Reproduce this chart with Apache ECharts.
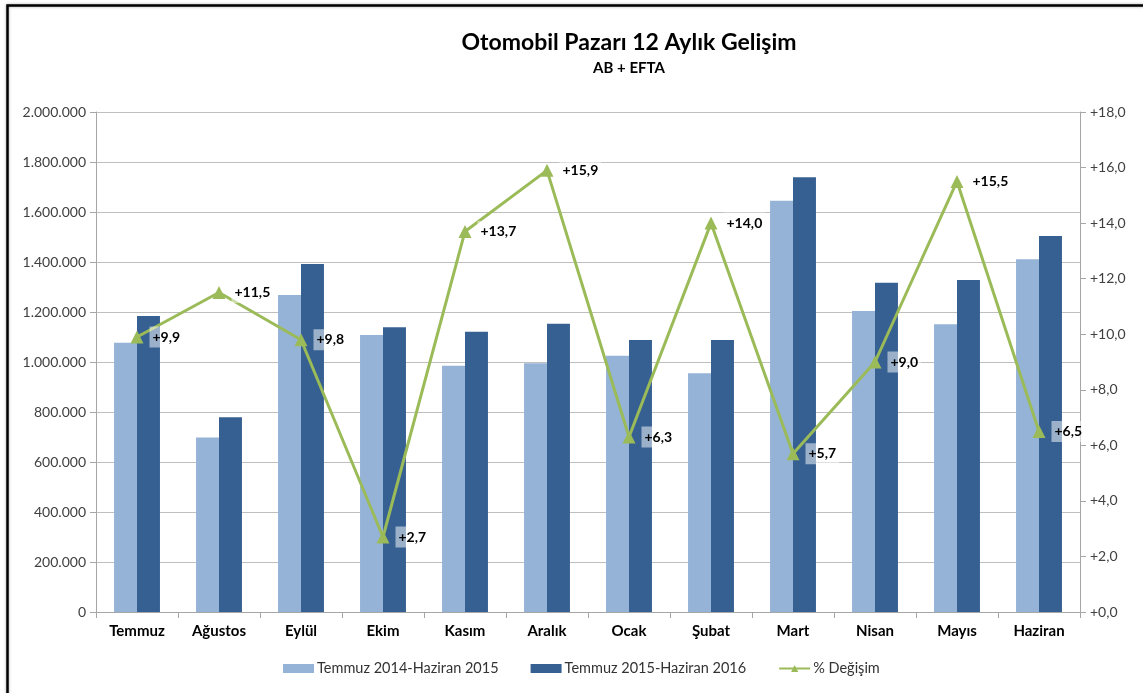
<!DOCTYPE html>
<html><head><meta charset="utf-8">
<script src="https://cdn.jsdelivr.net/npm/echarts@6/dist/echarts.min.js"></script>
<style>html,body{margin:0;padding:0;background:#fff}#c{width:1143px;height:693px}</style>
</head><body><div id="c"></div>
<script>
const categories = ['Temmuz','Ağustos','Eylül','Ekim','Kasım','Aralık','Ocak','Şubat','Mart','Nisan','Mayıs','Haziran'];
const period1 = [1077000, 698000, 1268000, 1108000, 985000, 995000, 1025000, 955000, 1645000, 1204000, 1151000, 1411000];
const period2 = [1184000, 779000, 1392000, 1139000, 1121000, 1153000, 1088000, 1088000, 1739000, 1317000, 1328000, 1504000];
const change = [9.9, 11.5, 9.8, 2.7, 13.7, 15.9, 6.3, 14.0, 5.7, 9.0, 15.5, 6.5];
const seriesNames = ['Temmuz 2014-Haziran 2015', 'Temmuz 2015-Haziran 2016', '% Değişim'];

const FONT = 'Lato, "Open Sans", sans-serif';
const fmtLeft = v => v === 0 ? '0' : String(v).replace(/\B(?=(\d{3})+(?!\d))/g, '.');
const fmtRight = v => '+' + Number(v).toFixed(1).replace('.', ',');

const chart = echarts.init(document.getElementById('c'));
chart.setOption({
  animation: false,
  backgroundColor: '#fff',
  textStyle: { fontFamily: FONT },
  title: [
    { text: 'Otomobil Pazarı 12 Aylık Gelişim', left: 624, top: 26, textAlign: 'center',
      textStyle: { fontFamily: FONT, fontSize: 23, fontWeight: 'bold', color: '#000' } },
    { text: 'AB + EFTA', left: 624, top: 56, textAlign: 'center',
      textStyle: { fontFamily: FONT, fontSize: 15, fontWeight: 'bold', color: '#000' } }
  ],
  graphic: [{
    type: 'rect', left: 5, top: 3, silent: true,
    shape: { width: 1160, height: 720 },
    style: { fill: 'none', stroke: '#000', lineWidth: 2.5, shadowColor: 'rgba(0,0,0,0.35)', shadowBlur: 3 }
  }],
  legend: {
    bottom: 12, left: 278, itemGap: 32, itemWidth: 31, itemHeight: 9,
    textStyle: { fontFamily: FONT, fontSize: 14.5, color: '#333', padding: [0, 0, 0, -2] },
    data: [
      { name: seriesNames[0], icon: 'rect' },
      { name: seriesNames[1], icon: 'rect' },
      { name: seriesNames[2] }
    ]
  },
  grid: { left: 96, right: 63, top: 112, bottom: 81 },
  xAxis: {
    type: 'category', data: categories,
    axisLine: { lineStyle: { color: '#a6a6a6', width: 1 } },
    axisTick: { show: true, length: 6, lineStyle: { color: '#a6a6a6' } },
    axisLabel: { fontFamily: FONT, fontSize: 15, fontWeight: 'bold', color: '#000', margin: 12 }
  },
  yAxis: [
    { type: 'value', min: 0, max: 2000000, interval: 200000,
      axisLine: { show: true, lineStyle: { color: '#a6a6a6' } },
      axisTick: { show: true, inside: false, length: 6, lineStyle: { color: '#a6a6a6' } },
      splitLine: { lineStyle: { color: '#bfbfbf', width: 1 } },
      axisLabel: { fontFamily: FONT, fontSize: 14, color: '#404040', formatter: fmtLeft, margin: 10 } },
    { type: 'value', min: 0, max: 18, interval: 2, position: 'right',
      axisLine: { show: true, lineStyle: { color: '#a6a6a6' } },
      axisTick: { show: true, length: 6, lineStyle: { color: '#a6a6a6' } },
      splitLine: { show: false },
      axisLabel: { fontFamily: FONT, fontSize: 14, color: '#404040', formatter: fmtRight, margin: 10 } }
  ],
  series: [
    { name: seriesNames[0], type: 'bar', data: period1, barGap: '0%', barCategoryGap: '44%',
      itemStyle: { color: '#95b3d7' } },
    { name: seriesNames[1], type: 'bar', data: period2, barGap: '0%', barCategoryGap: '44%',
      itemStyle: { color: '#376092' } },
    { name: seriesNames[2], type: 'line', yAxisIndex: 1, data: change,
      symbol: 'triangle', symbolSize: 13,
      lineStyle: { color: '#9bbb59', width: 3 },
      itemStyle: { color: '#9bbb59' },
      label: { show: true, position: 'right', distance: 6,
        formatter: p => fmtRight(p.value),
        fontFamily: FONT, fontSize: 14, fontWeight: 'bold', color: '#000',
        backgroundColor: 'rgba(255,255,255,0.5)', padding: [4, 3, 3, 3] },
      z: 5 }
  ]
});
</script></body></html>
